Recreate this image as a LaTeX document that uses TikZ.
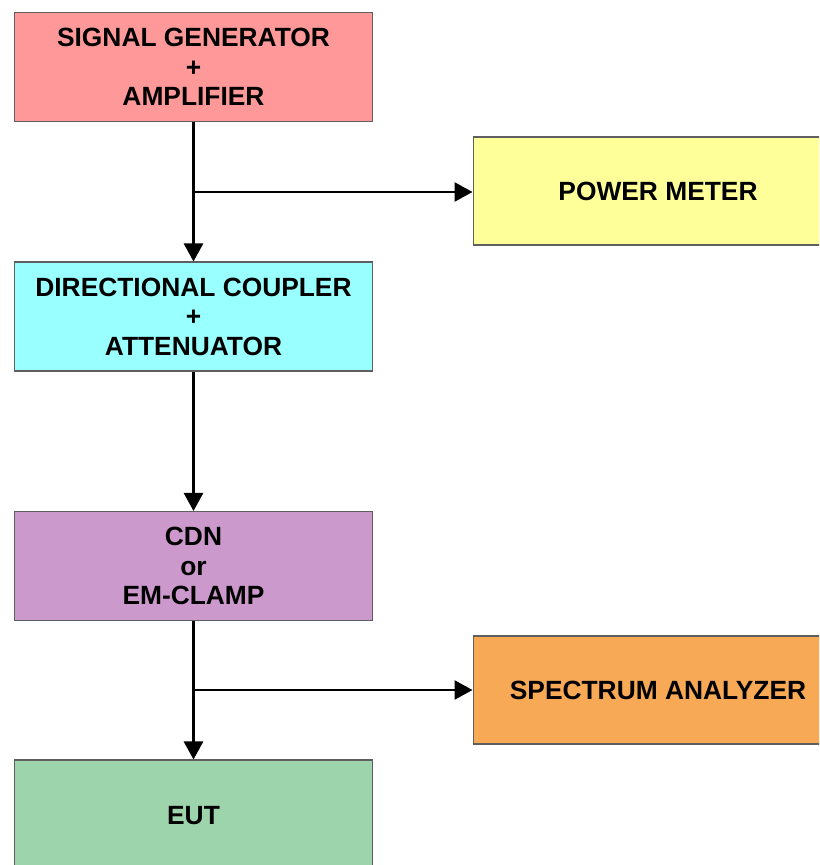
\documentclass[tikz,border=0pt]{standalone}
\usepackage{fontspec}
\setmainfont{Liberation Sans}
\usepackage{tikz}
\usetikzlibrary{arrows.meta, positioning, calc}
\definecolor{boxline}{RGB}{95,95,95}
\definecolor{sigred}{RGB}{255,153,153}
\definecolor{pmyellow}{RGB}{255,255,153}
\definecolor{dccyan}{RGB}{153,255,255}
\definecolor{cdnlilac}{RGB}{204,153,204}
\definecolor{saorange}{RGB}{248,169,86}
\definecolor{eutgreen}{RGB}{158,212,172}
\tikzset{
  chainbox/.style={rectangle, draw=boxline, line width=0.6pt,
    minimum width=7.18cm, minimum height=2.18cm, align=center,
    font=\bfseries\fontsize{15}{16.8}\selectfont},
  sidebox/.style={chainbox, minimum width=7.4cm, minimum height=2.16cm},
  arrow/.style={-{Triangle[length=0.36cm, width=0.38cm]}, line width=1.5pt, color=black},
  line/.style={line width=1.5pt, color=black}
}
\begin{document}
\begin{tikzpicture}[x=0.02cm, y=-0.02cm]
  \useasboundingbox (0,0) rectangle (819,865);
  \clip (0,0) rectangle (819,865);
  % main chain
  \node[chainbox, fill=sigred] (siggen) at (193.5,67) {SIGNAL GENERATOR\\+\\AMPLIFIER};
  \node[chainbox, fill=dccyan] (coupler) at (193.5,316.5) {DIRECTIONAL COUPLER\\+\\ATTENUATOR};
  \node[chainbox, fill=cdnlilac] (cdn) at (193.5,566) {CDN\\or\\EM-CLAMP};
  \node[chainbox, fill=eutgreen, minimum height=2.24cm] (eut) at (193.5,816) {EUT};
  % side instruments
  \node[sidebox, fill=pmyellow] (pmeter) at (658,191) {POWER METER};
  \node[sidebox, fill=saorange] (analyzer) at (658,690) {SPECTRUM ANALYZER};
  % taps
  \coordinate (tap1) at (193,192);
  \coordinate (tap2) at (193,690);
  \draw[arrow] (siggen.south) -- (coupler.north);
  \draw[arrow] (coupler.south) -- (cdn.north);
  \draw[arrow] (cdn.south) -- (eut.north);
  \draw[arrow] (tap1) -- (tap1 -| pmeter.west);
  \draw[arrow] (tap2) -- (tap2 -| analyzer.west);
\end{tikzpicture}
\end{document}
